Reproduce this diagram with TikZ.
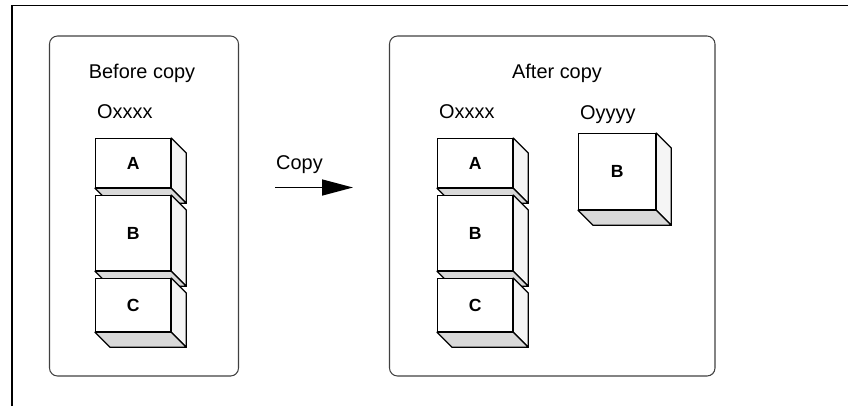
\documentclass[tikz,border=0pt]{standalone}
\usepackage{fontspec}
\setmainfont{Liberation Sans}
\usetikzlibrary{arrows.meta, positioning}

\begin{document}
\begin{tikzpicture}[x=0.03cm, y=-0.03cm,
    frame/.style={draw=black, line width=1.4pt},
    panel/.style={draw=black!75, line width=0.9pt, rounded corners=0.24cm},
    block/.style={rectangle, draw=black, fill=white, line width=1.1pt, inner sep=0pt, anchor=north west, font=\fontsize{15}{17}\selectfont\bfseries},
    side/.style={draw=black, fill=black!4, line width=1.1pt, line join=round},
    base/.style={draw=black, fill=black!15, line width=1.1pt, line join=round},
    caption/.style={inner sep=0pt, font=\fontsize{17}{20}\selectfont}]

    \useasboundingbox (0,0) rectangle (848,406);
    \draw[frame] (11.8,406) -- (11.8,5.5) -- (848,5.5);

    % the two panels
    \draw[panel] (49.5,36) rectangle (238.5,376);
    \draw[panel] (389.5,36) rectangle (715,376);
    \node[caption] (before) at (142,73) {Before copy};
    \node[caption] (after) at (557,73) {After copy};

    \node[caption, anchor=base west] (oxl) at (97,118) {Oxxxx};
    \node[caption, anchor=base west] (oxr) at (439,118) {Oxxxx};
    \node[caption, anchor=base west] (oy) at (580,119) {Oyyyy};

    % blocks, drawn top to bottom so that each one covers the one above
    \foreach \n/\x/\y/\w/\h/\t in {la/95/138/2.25cm/1.47cm/A, lb/95/195/2.25cm/2.25cm/B, lc/95/278/2.25cm/1.59cm/C,
        ra/437/138/2.25cm/1.47cm/A, rb/437/195/2.25cm/2.25cm/B, rc/437/278/2.25cm/1.59cm/C,
        yb/578/133/2.31cm/2.28cm/B} {
        \node[block, minimum width=\w, minimum height=\h] (\n) at (\x,\y) {\t};
        \filldraw[side] (\n.north east) -- ++(15,15) -- ([shift={(15,15)}]\n.south east) -- (\n.south east) -- cycle;
        \filldraw[base] (\n.south west) -- (\n.south east) -- ++(15,15) -- ([shift={(15,15)}]\n.south west) -- cycle;
    }

    % copy arrow
    \node[caption, anchor=base west] (copy) at (276,169) {Copy};
    \coordinate (from) at (275,187.5);
    \coordinate (to) at (353,187.5);
    \draw[line width=1.3pt, -{Triangle[length=0.93cm, width=0.48cm]}] (from) -- (to);
\end{tikzpicture}
\end{document}
